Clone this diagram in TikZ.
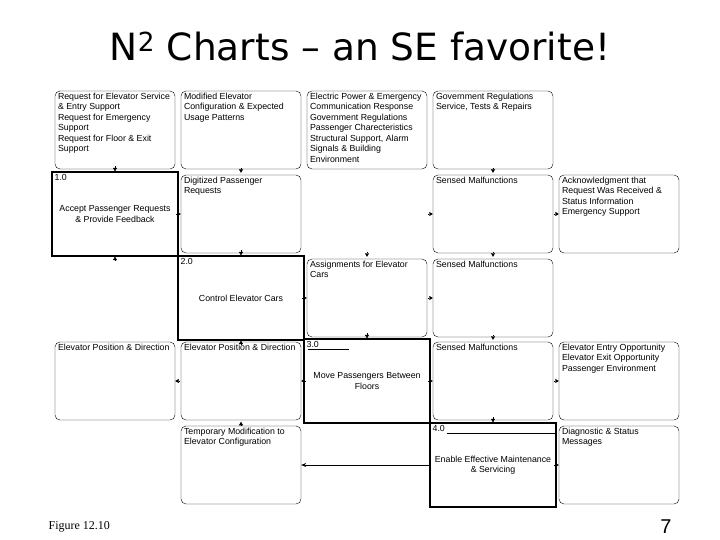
\documentclass[tikz,border=0pt]{standalone}
\usepackage{fontspec}
\setmainfont{Liberation Sans}
\newfontfamily\titlefont{DejaVu Sans}
\newfontfamily\figfont{Liberation Serif}
\usetikzlibrary{arrows.meta, calc}
\newcommand{\celltext}[1]{\parbox[c][74pt][t]{114pt}{\raggedright #1}}

\begin{document}
\begin{tikzpicture}[x=1pt, y=-1pt, semithick,
    font=\fontsize{8.8}{10.5}\selectfont,
    fbox/.style={rectangle, draw=black, line width=1.3pt, minimum width=126pt,
      minimum height=84pt, inner sep=1pt, align=center},
    fnum/.style={anchor=north west, inner sep=3pt},
    iface/.style={rectangle, draw=black, rounded corners=5pt, line width=0.4pt,
      minimum width=120pt, minimum height=78pt, inner sep=0pt},
    flowtip/.style={-{Triangle[length=3.5pt, width=4pt]}, line width=0.4pt}]

    \fill[white] (0,0) rectangle (720,540);
    \useasboundingbox (0,0) rectangle (720,540);

    % Title and page
    \node[font=\titlefont\fontsize{37.5}{44}\selectfont] (title) at (360,47)
      {N\textsuperscript{2} Charts – an SE favorite!};
    \node[font=\figfont\fontsize{12}{14}\selectfont, anchor=west] (fig) at (45,527) {Figure 12.10};
    \node[font=\fontsize{20}{24}\selectfont] (pnum) at (666,527) {7};

    % Functions on the diagonal
    \node[fbox] (f1) at (115,214) {Accept Passenger Requests\\\& Provide Feedback};
    \node[fbox] (f2) at (241,298) {Control Elevator Cars};
    \node[fbox] (f3) at (367,381) {Move Passengers Between\\Floors};
    \node[fbox] (f4) at (493,465) {Enable Effective Maintenance\\\& Servicing};
    \node[fnum] (n1) at (f1.north west) {1.0};
    \node[fnum] (n2) at (f2.north west) {2.0};
    \node[fnum] (n3) at (f3.north west) {3.0};
    \node[fnum] (n4) at (f4.north west) {4.0};
    \draw[line width=0.5pt] ($(f3.north west)+(5,11)$) -- ($(f3.north west)+(46,11)$);
    \draw[line width=0.5pt] ($(f4.north west)+(18,11)$) -- ($(f4.north east)+(0,11)$);

    % Row 0 (external inputs)
    \node[iface] (c01) at (115,130) {\celltext{Request for Elevator Service\\\& Entry Support\\Request for Emergency\\Support\\Request for Floor \& Exit\\Support}};
    \node[iface] (c02) at (241,130) {\celltext{Modified Elevator\\Configuration \& Expected\\Usage Patterns}};
    \node[iface] (c03) at (367,130) {\celltext{Electric Power \& Emergency\\Communication Response\\Government Regulations\\Passenger Charecteristics\\Structural Support, Alarm\\Signals \& Building\\Environment}};
    \node[iface] (c04) at (493,130) {\celltext{Government Regulations\\Service, Tests \& Repairs}};

    % Row 1
    \node[iface] (c11) at (241,214) {\celltext{Digitized Passenger\\Requests}};
    \node[iface] (c13) at (493,214) {\celltext{Sensed Malfunctions}};
    \node[iface] (c14) at (619,214) {\celltext{Acknowledgment that\\Request Was Received \&\\Status Information\\Emergency Support}};

    % Row 2
    \node[iface] (c22) at (367,298) {\celltext{Assignments for Elevator\\Cars}};
    \node[iface] (c23) at (493,298) {\celltext{Sensed Malfunctions}};

    % Row 3
    \node[iface] (c30) at (115,381) {\celltext{Elevator Position \& Direction}};
    \node[iface] (c31) at (241,381) {\celltext{Elevator Position \& Direction}};
    \node[iface] (c33) at (493,381) {\celltext{Sensed Malfunctions}};
    \node[iface] (c34) at (619,381) {\celltext{Elevator Entry Opportunity\\Elevator Exit Opportunity\\Passenger Environment}};

    % Row 4
    \node[iface] (c41) at (241,465) {\celltext{Temporary Modification to\\Elevator Configuration}};
    \node[iface] (c44) at (619,465) {\celltext{Diagnostic \& Status\\Messages}};

    % Feedback from 4.0
    \draw[-{Stealth[length=5pt, width=4pt]}, line width=0.6pt] (f4.west) -- (c41.east);

    % Down tips
    \draw[flowtip] ($(f1.north)+(0,-5)$) -- (f1.north);
    \draw[flowtip] ($(f2.north)+(0,-5)$) -- (f2.north);
    \draw[flowtip] ($(f3.north)+(0,-5)$) -- (f3.north);
    \draw[flowtip] ($(f4.north)+(0,-5)$) -- (f4.north);
    \draw[flowtip] ($(c11.north)+(0,-7)$) -- ($(c11.north)+(0,-2)$);
    \draw[flowtip] ($(c13.north)+(0,-7)$) -- ($(c13.north)+(0,-2)$);
    \draw[flowtip] ($(c22.north)+(0,-7)$) -- ($(c22.north)+(0,-2)$);
    \draw[flowtip] ($(c23.north)+(0,-7)$) -- ($(c23.north)+(0,-2)$);
    \draw[flowtip] ($(c33.north)+(0,-7)$) -- ($(c33.north)+(0,-2)$);

    % Up tips
    \draw[flowtip] ($(f1.south)+(0,3.5)$) -- (f1.south);
    \draw[flowtip] ($(f2.south)+(0,3.5)$) -- (f2.south);
    \draw[flowtip] (c41.north) -- ($(c41.north)+(0,-4)$);

    % Side tips
    \draw[flowtip] ($(c11.west)+(-5,0)$) -- (c11.west);
    \draw[flowtip] ($(c22.west)+(-5,0)$) -- (c22.west);
    \draw[flowtip] ($(c13.west)+(-5,0)$) -- (c13.west);
    \draw[flowtip] ($(c14.west)+(-5,0)$) -- (c14.west);
    \draw[flowtip] ($(c23.west)+(-5,0)$) -- (c23.west);
    \draw[flowtip] ($(c33.west)+(-5,0)$) -- (c33.west);
    \draw[flowtip] ($(c34.west)+(-5,0)$) -- (c34.west);
    \draw[flowtip] ($(c44.west)+(-5,0)$) -- (c44.west);
    \draw[flowtip] ($(c31.east)+(5,0)$) -- (c31.east);
    \draw[flowtip] ($(c30.east)+(5,0)$) -- (c30.east);
\end{tikzpicture}
\end{document}
